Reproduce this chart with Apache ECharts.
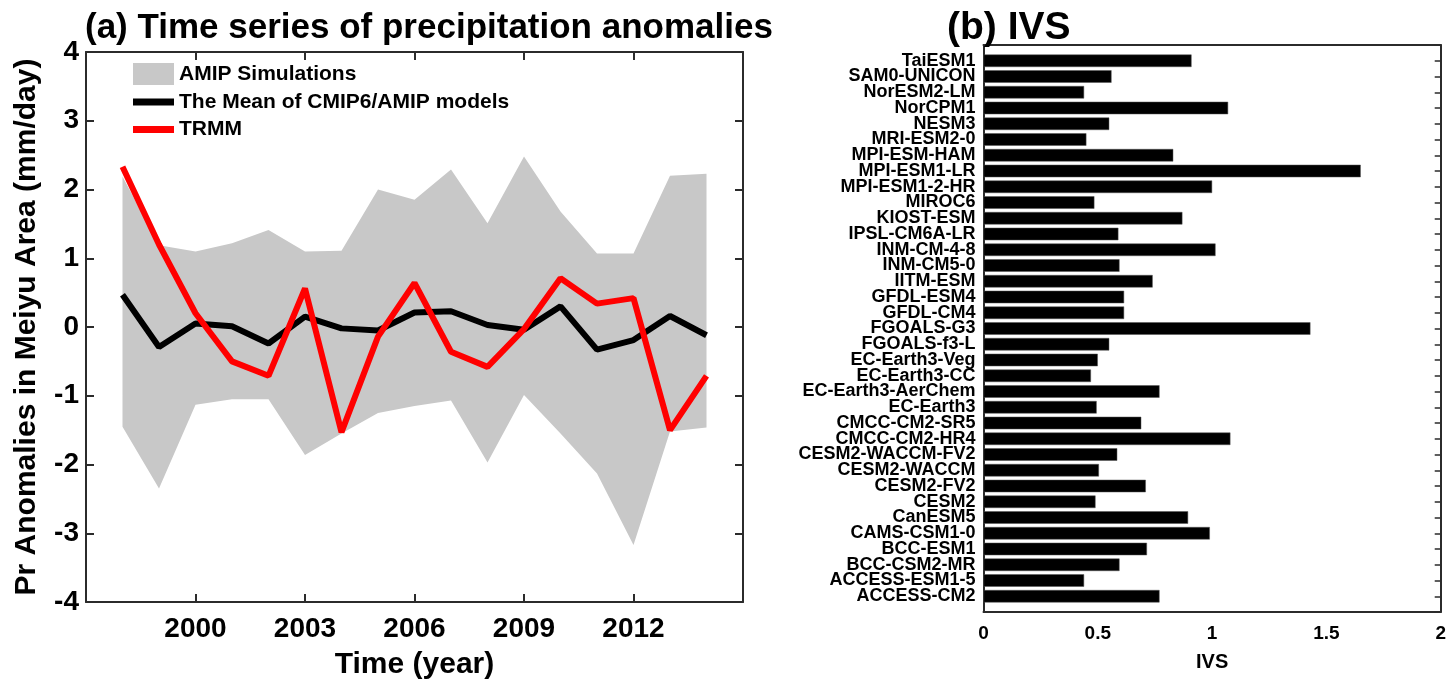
<!DOCTYPE html>
<html>
<head>
<meta charset="utf-8">
<script src="https://cdn.jsdelivr.net/npm/echarts@6/dist/echarts.min.js"></script>
<style>
  html, body { margin: 0; padding: 0; background: #fff; }
  #chart { width: 1449px; height: 687px; }
</style>
</head>
<body>
<div id="chart"></div>
<script>
const years = [1998, 1999, 2000, 2001, 2002, 2003, 2004, 2005, 2006, 2007, 2008, 2009, 2010, 2011, 2012, 2013, 2014];
const amipUpper = [2.19, 1.19, 1.10, 1.22, 1.41, 1.10, 1.11, 2.00, 1.85, 2.29, 1.51, 2.48, 1.68, 1.07, 1.07, 2.20, 2.23];
const amipLower = [-1.45, -2.35, -1.13, -1.05, -1.05, -1.86, -1.55, -1.25, -1.15, -1.07, -1.97, -0.99, -1.55, -2.13, -3.17, -1.52, -1.46];
const modelMean = [0.47, -0.29, 0.05, 0.01, -0.24, 0.15, -0.02, -0.05, 0.21, 0.23, 0.03, -0.04, 0.30, -0.33, -0.19, 0.16, -0.12];
const trmm = [2.33, 1.20, 0.20, -0.50, -0.71, 0.56, -1.53, -0.14, 0.64, -0.36, -0.58, -0.03, 0.71, 0.34, 0.42, -1.50, -0.71];
const yearTicks = [2000, 2003, 2006, 2009, 2012];

const models = ["TaiESM1", "SAM0-UNICON", "NorESM2-LM", "NorCPM1", "NESM3", "MRI-ESM2-0", "MPI-ESM-HAM",
  "MPI-ESM1-LR", "MPI-ESM1-2-HR", "MIROC6", "KIOST-ESM", "IPSL-CM6A-LR", "INM-CM-4-8", "INM-CM5-0",
  "IITM-ESM", "GFDL-ESM4", "GFDL-CM4", "FGOALS-G3", "FGOALS-f3-L", "EC-Earth3-Veg", "EC-Earth3-CC",
  "EC-Earth3-AerChem", "EC-Earth3", "CMCC-CM2-SR5", "CMCC-CM2-HR4", "CESM2-WACCM-FV2", "CESM2-WACCM",
  "CESM2-FV2", "CESM2", "CanESM5", "CAMS-CSM1-0", "BCC-ESM1", "BCC-CSM2-MR", "ACCESS-ESM1-5", "ACCESS-CM2"];
const ivs = [0.91, 0.56, 0.44, 1.07, 0.55, 0.45, 0.83, 1.65, 1.00, 0.485, 0.87, 0.59, 1.015, 0.595,
  0.74, 0.615, 0.615, 1.43, 0.55, 0.50, 0.47, 0.77, 0.495, 0.69, 1.08, 0.585, 0.505,
  0.71, 0.49, 0.895, 0.99, 0.715, 0.595, 0.44, 0.77];

const FONT = "'Liberation Sans', Arial, Helvetica, sans-serif";
const AXIS = "#2b2b2b";

// x axis runs one year past the data on each side, as in the original frame
const yearCats = [String(years[0] - 1)].concat(years.map(String), [String(years[years.length - 1] + 1)]);
const pad = (vals) => [null].concat(vals, [null]);
const bandData = amipUpper.map((u, i) => +(u - amipLower[i]).toFixed(3));
const isYearTick = (idx, val) => yearTicks.indexOf(Number(val)) >= 0;

// pad the model list so bars sit on integer positions 1..35 inside a 0..36 frame
const modelCats = [""].concat(models, [""]);
const ivsData = [null].concat(ivs, [null]);

const chart = echarts.init(document.getElementById("chart"));

const bold = (size) => ({ fontFamily: FONT, fontWeight: "bold", fontSize: size, color: "#000" });
const frameLine = { show: true, onZero: false, lineStyle: { color: AXIS, width: 2 } };
const lineIcon = "path://M0,0h41v7h-41z";

chart.setOption({
  animation: false,
  textStyle: { fontFamily: FONT },
  title: [
    { text: "(a) Time series of precipitation anomalies", left: 80, top: 6, textStyle: bold(35) },
    { text: "(b) IVS", left: 942, top: 4, textStyle: bold(39) },
  ],
  legend: {
    orient: "vertical",
    left: 128,
    top: 58,
    itemWidth: 41,
    itemHeight: 22,
    itemGap: 6.5,
    textStyle: bold(21),
    data: [
      { name: "AMIP Simulations", icon: "rect", itemStyle: { color: "#c8c8c8" } },
      { name: "The Mean of CMIP6/AMIP models", icon: lineIcon, itemStyle: { color: "#000" } },
      { name: "TRMM", icon: lineIcon, itemStyle: { color: "#ff0000" } },
    ],
  },
  grid: [
    { left: 86, top: 52, width: 657, height: 550 },
    { left: 983.5, top: 45, width: 459.5, height: 567 },
  ],
  xAxis: [
    {
      gridIndex: 0, type: "category", data: yearCats, boundaryGap: false,
      name: "Time (year)", nameLocation: "middle", nameGap: 48, nameTextStyle: bold(30),
      axisLine: frameLine,
      axisTick: { inside: true, length: 8, interval: isYearTick, lineStyle: { color: AXIS, width: 2 } },
      axisLabel: { interval: isYearTick, margin: 13, ...bold(28) },
      splitLine: { show: false },
    },
    {
      gridIndex: 0, type: "category", data: yearCats, boundaryGap: false, position: "top",
      axisLine: frameLine,
      axisTick: { inside: true, length: 8, interval: isYearTick, lineStyle: { color: AXIS, width: 2 } },
      axisLabel: { show: false },
      splitLine: { show: false },
    },
    {
      gridIndex: 1, type: "value", min: 0, max: 2, interval: 0.5,
      name: "IVS", nameLocation: "middle", nameGap: 40, nameTextStyle: bold(20),
      axisLine: frameLine,
      axisTick: { inside: true, length: 6, lineStyle: { color: AXIS, width: 1.5 } },
      axisLabel: { margin: 12, ...bold(19) },
      splitLine: { show: false },
    },
    {
      gridIndex: 1, type: "value", min: 0, max: 2, interval: 0.5, position: "top",
      axisLine: frameLine,
      axisTick: { inside: true, length: 5, lineStyle: { color: AXIS, width: 1.5 } },
      axisLabel: { show: false },
      splitLine: { show: false },
    },
  ],
  yAxis: [
    {
      gridIndex: 0, type: "value", min: -4, max: 4, interval: 1,
      name: "Pr Anomalies in Meiyu Area (mm/day)", nameLocation: "middle", nameGap: 44,
      nameTextStyle: bold(30),
      axisLine: frameLine,
      axisTick: { show: true, inside: true, length: 8, lineStyle: { color: AXIS, width: 2 } },
      axisLabel: { margin: 7, ...bold(28) },
      splitLine: { show: false },
    },
    {
      gridIndex: 0, type: "value", min: -4, max: 4, interval: 1, position: "right",
      axisLine: frameLine,
      axisTick: { show: true, inside: true, length: 8, lineStyle: { color: AXIS, width: 2 } },
      axisLabel: { show: false },
      splitLine: { show: false },
    },
    {
      gridIndex: 1, type: "category", data: modelCats, inverse: true, boundaryGap: false,
      axisLine: frameLine,
      axisTick: { show: false },
      axisLabel: { interval: 0, margin: 8, ...bold(18) },
      splitLine: { show: false },
    },
    {
      gridIndex: 1, type: "category", data: modelCats, inverse: true, boundaryGap: false, position: "right",
      axisLine: frameLine,
      axisTick: { show: true, inside: true, length: 6, interval: 0, lineStyle: { color: AXIS, width: 1.5 } },
      axisLabel: { show: false },
      splitLine: { show: false },
    },
  ],
  series: [
    {
      name: "lower", type: "line", xAxisIndex: 0, yAxisIndex: 0, stack: "band", stackStrategy: "all",
      data: pad(amipLower), symbol: "none", lineStyle: { width: 0 }, silent: true,
    },
    {
      name: "AMIP Simulations", type: "line", xAxisIndex: 0, yAxisIndex: 0, stack: "band", stackStrategy: "all",
      data: pad(bandData), symbol: "none", lineStyle: { width: 0 },
      itemStyle: { color: "#c8c8c8" },
      areaStyle: { color: "#c8c8c8", opacity: 1 },
    },
    {
      name: "The Mean of CMIP6/AMIP models", type: "line", xAxisIndex: 0, yAxisIndex: 0,
      data: pad(modelMean), symbol: "none",
      itemStyle: { color: "#000" }, lineStyle: { color: "#000", width: 6 },
    },
    {
      name: "TRMM", type: "line", xAxisIndex: 0, yAxisIndex: 0,
      data: pad(trmm), symbol: "none",
      itemStyle: { color: "#ff0000" }, lineStyle: { color: "#ff0000", width: 6 },
    },
    {
      name: "IVS", type: "bar", xAxisIndex: 2, yAxisIndex: 2,
      data: ivsData, barWidth: 12.5,
      itemStyle: { color: "#000", borderColor: "#555", borderWidth: 0.5 },
    },
  ],
});
</script>
</body>
</html>
